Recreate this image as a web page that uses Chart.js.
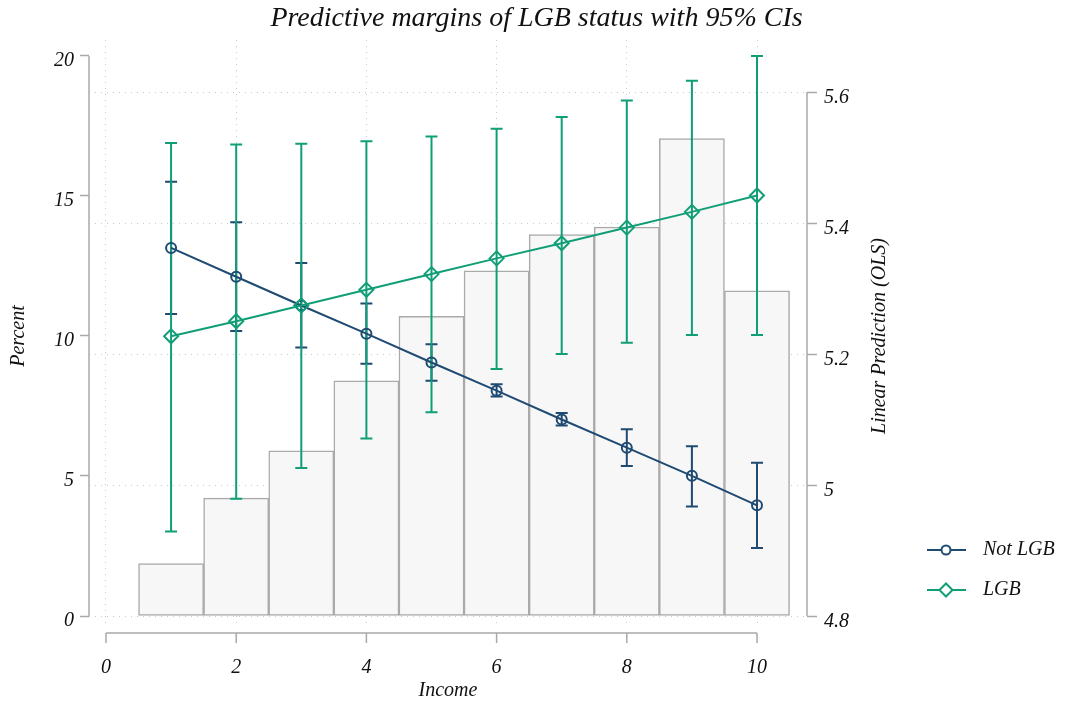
<!DOCTYPE html>
<html>
<head>
<meta charset="utf-8">
<script src="https://cdn.jsdelivr.net/npm/chart.js@4.4.1/dist/chart.umd.min.js"></script>
<style>
  html, body { margin: 0; padding: 0; background: #fff; }
  #wrap { width: 1073px; height: 706px; }
</style>
</head>
<body>
<div id="wrap"><canvas id="marginsChart"></canvas></div>
<script>
// histogram of income (left axis, percent)
var incomeLevels = [1, 2, 3, 4, 5, 6, 7, 8, 9, 10];
var histPercent = [1.87, 4.21, 5.90, 8.40, 10.70, 12.33, 13.62, 13.89, 17.05, 11.61];

// predictive margins (right axis) with 95% CIs
var notLgbFit = [5.362, 5.318, 5.274, 5.231, 5.187, 5.144, 5.100, 5.057, 5.014, 4.969];
var notLgbLo  = [5.261, 5.235, 5.210, 5.185, 5.159, 5.135, 5.091, 5.029, 4.967, 4.904];
var notLgbHi  = [5.463, 5.401, 5.339, 5.277, 5.215, 5.154, 5.110, 5.085, 5.059, 5.034];
var lgbFit = [5.227, 5.250, 5.274, 5.298, 5.322, 5.346, 5.369, 5.393, 5.417, 5.442];
var lgbLo  = [4.929, 4.979, 5.026, 5.071, 5.111, 5.177, 5.200, 5.217, 5.229, 5.229];
var lgbHi  = [5.522, 5.520, 5.521, 5.525, 5.532, 5.544, 5.562, 5.587, 5.617, 5.655];

var xTicks = [0, 2, 4, 6, 8, 10];
var percentTicks = [0, 5, 10, 15, 20];
var predTicks = [4.8, 5, 5.2, 5.4, 5.6];

var navy = '#1f4a72';
var green = '#109e76';
var axisGrey = '#a9a9a9';
var gridGrey = '#c9c9c9';
var serif = '"Liberation Serif", "DejaVu Serif", serif';

function pts(ys) {
    return incomeLevels.map(function (x, i) { return { x: x, y: ys[i] }; });
}
function fixedTicks(list) {
    return function (scale) { scale.ticks = list.map(function (v) { return { value: v }; }); };
}

// CI caps, axis lines, vertical titles, legend
var stataBits = {
    id: 'stataBits',
    afterDatasetDraw: function (chart, args) {
        if (args.meta.type !== 'bar') return;
        var ctx = chart.ctx, x = chart.scales.x, y = chart.scales.yR;
        var sets = [[notLgbLo, notLgbHi, navy], [lgbLo, lgbHi, green]];
        ctx.save();
        ctx.lineWidth = 2;
        sets.forEach(function (s) {
            ctx.strokeStyle = s[2];
            incomeLevels.forEach(function (v, i) {
                var px = x.getPixelForValue(v);
                var lo = y.getPixelForValue(s[0][i]), hi = y.getPixelForValue(s[1][i]);
                ctx.beginPath();
                ctx.moveTo(px, lo); ctx.lineTo(px, hi);
                ctx.moveTo(px - 6, lo); ctx.lineTo(px + 6, lo);
                ctx.moveTo(px - 6, hi); ctx.lineTo(px + 6, hi);
                ctx.stroke();
            });
        });
        ctx.restore();
    },
    afterDraw: function (chart) {
        var ctx = chart.ctx, s = chart.scales;
        ctx.save();
        ctx.strokeStyle = axisGrey;
        ctx.lineWidth = 1.5;
        ctx.beginPath();
        // left axis
        ctx.moveTo(89, s.yL.getPixelForValue(20)); ctx.lineTo(89, s.yL.getPixelForValue(0));
        // right axis
        ctx.moveTo(807, s.yR.getPixelForValue(5.6)); ctx.lineTo(807, s.yR.getPixelForValue(4.8));
        // bottom axis sits below the plot
        ctx.moveTo(s.x.getPixelForValue(0), 633); ctx.lineTo(s.x.getPixelForValue(10), 633);
        xTicks.forEach(function (v) {
            var px = s.x.getPixelForValue(v);
            ctx.moveTo(px, 633); ctx.lineTo(px, 643);
        });
        ctx.stroke();

        ctx.fillStyle = '#111';
        ctx.font = 'italic 20px ' + serif;
        ctx.textAlign = 'center';
        ctx.textBaseline = 'middle';
        [['Percent', 19], ['Linear Prediction (OLS)', 880]].forEach(function (t) {
            ctx.save();
            ctx.translate(t[1], 336);
            ctx.rotate(-Math.PI / 2);
            ctx.fillText(t[0], 0, 0);
            ctx.restore();
        });

        // legend
        var items = [['Not LGB', navy, 'circle', 550], ['LGB', green, 'rectRot', 590]];
        ctx.textAlign = 'left';
        items.forEach(function (it) {
            ctx.strokeStyle = it[1];
            ctx.lineWidth = 2;
            ctx.beginPath();
            ctx.moveTo(927, it[3]); ctx.lineTo(966, it[3]);
            ctx.stroke();
            ctx.fillStyle = '#fff';
            Chart.helpers.drawPoint(ctx, { pointStyle: it[2], radius: it[2] === 'circle' ? 4.5 : 6.5, borderWidth: 2 }, 946, it[3]);
            ctx.fillStyle = '#111';
            ctx.fillText(it[0], 983, it[3]);
        });
        ctx.restore();
    }
};

var tickFont = { family: serif, style: 'italic', size: 20 };

new Chart('marginsChart', {
    type: 'bar',
    data: {
        datasets: [{
            type: 'bar',
            label: 'Percent',
            data: pts(histPercent),
            yAxisID: 'yL',
            backgroundColor: '#f7f7f7',
            borderColor: '#aaaaaa',
            borderWidth: 1.5,
            borderSkipped: false,
            barPercentage: 1,
            categoryPercentage: 1,
            order: 3
        }, {
            type: 'line',
            label: 'Not LGB',
            data: pts(notLgbFit),
            yAxisID: 'yR',
            borderColor: navy,
            borderWidth: 2,
            pointStyle: 'circle',
            pointRadius: 5,
            pointBorderWidth: 2,
            pointBorderColor: navy,
            pointBackgroundColor: 'rgba(0,0,0,0)',
            order: 2
        }, {
            type: 'line',
            label: 'LGB',
            data: pts(lgbFit),
            yAxisID: 'yR',
            borderColor: green,
            borderWidth: 2,
            pointStyle: 'rectRot',
            pointRadius: 7,
            pointBorderWidth: 2,
            pointBorderColor: green,
            pointBackgroundColor: 'rgba(0,0,0,0)',
            order: 1
        }]
    },
    options: {
        responsive: true,
        maintainAspectRatio: false,
        animation: false,
        events: [],
        layout: { padding: 0 },
        plugins: {
            legend: { display: false },
            tooltip: { enabled: false },
            title: {
                display: true,
                text: 'Predictive margins of LGB status with 95% CIs',
                font: { family: serif, style: 'italic', size: 28, weight: 'normal' },
                color: '#111',
                padding: { top: 2, bottom: 4.4 }
            }
        },
        scales: {
            x: {
                type: 'linear',
                offset: false,
                min: -0.261,
                max: 10.768,
                afterBuildTicks: fixedTicks(xTicks),
                afterFit: function (scale) { scale.height = 90; },
                grid: { offset: false, color: gridGrey, lineWidth: 1, tickLength: 12, tickColor: gridGrey, tickBorderDash: [1, 5] },
                border: { display: false, dash: [1, 5] },
                ticks: { font: tickFont, color: '#111', padding: 28, maxRotation: 0 },
                title: { display: true, text: 'Income', font: tickFont, color: '#111', padding: { top: 3, bottom: 3 } }
            },
            yL: {
                type: 'linear',
                position: 'left',
                min: 0,
                max: 20.571,
                afterBuildTicks: fixedTicks(percentTicks),
                afterFit: function (scale) { scale.width = 89; },
                grid: { drawOnChartArea: false, tickLength: 9, tickColor: axisGrey, tickWidth: 1.5 },
                border: { display: false },
                ticks: { font: tickFont, color: '#111', padding: 6, labelOffset: 5 }
            },
            yR: {
                type: 'linear',
                position: 'right',
                min: 4.8,
                max: 5.6794,
                afterBuildTicks: fixedTicks(predTicks),
                afterFit: function (scale) { scale.width = 266; },
                grid: { color: gridGrey, lineWidth: 1, tickLength: 10, tickColor: axisGrey, tickWidth: 1.5, tickBorderDash: [] },
                border: { display: false, dash: [1, 5] },
                ticks: {
                    font: tickFont, color: '#111', padding: 7, labelOffset: 6,
                    callback: function (v) { return String(+v.toFixed(1)); }
                }
            }
        }
    },
    plugins: [stataBits]
});
</script>
</body>
</html>
